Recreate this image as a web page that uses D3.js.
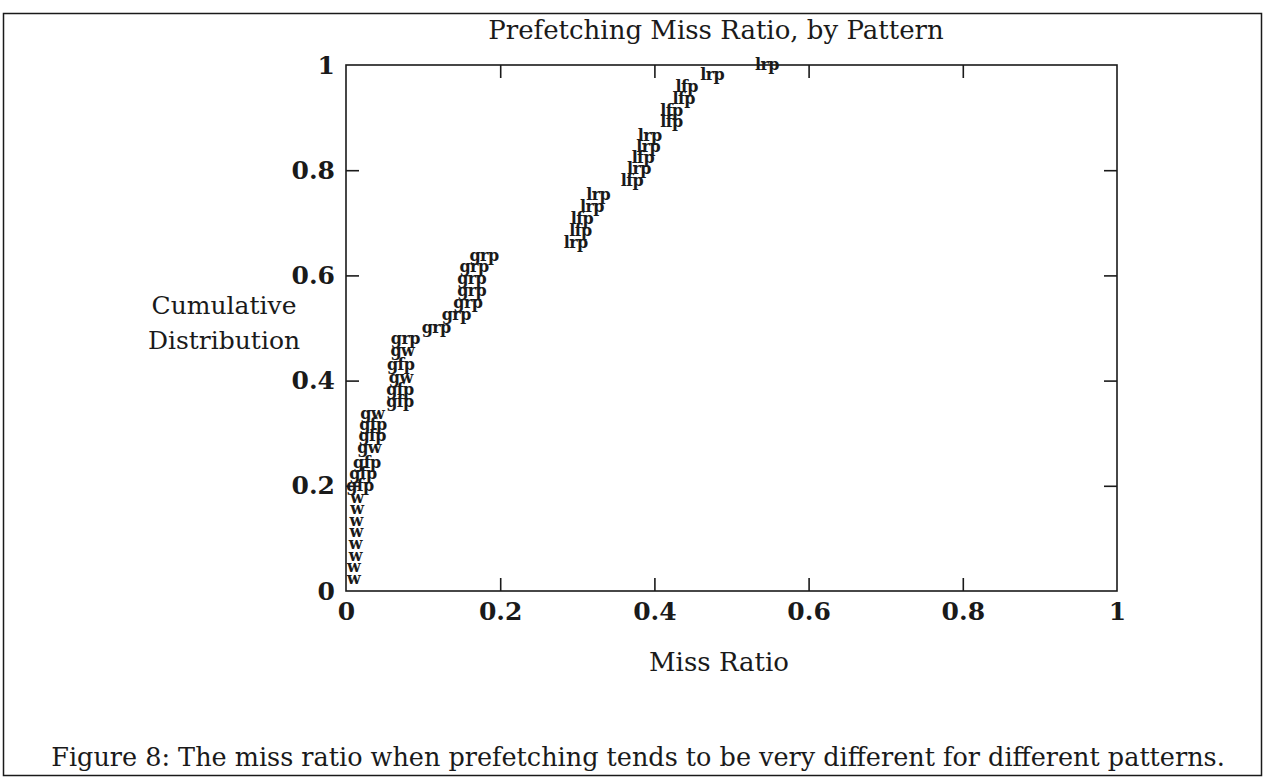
<!DOCTYPE html>
<html>
<head>
<meta charset="utf-8">
<script src="https://cdn.jsdelivr.net/npm/d3@7"></script>
<style>
  html, body { margin: 0; padding: 0; background: #fff; }
  svg { display: block; }
  text { font-family: "DejaVu Serif", "Liberation Serif", serif; fill: #1a1a1a; }
</style>
</head>
<body>
<svg id="chart" width="1266" height="782"></svg>
<script>
// ---- data ----
const patterns = [
  "w","w","w","w","w","w","w","w",
  "gfp","gfp","gfp","gw","gfp","gfp","gw","gfp","gfp","gw","gfp","gw",
  "grp","grp","grp","grp","grp","grp","grp","grp",
  "lrp","lfp","lfp","lrp","lrp","lfp","lrp","lfp","lrp","lrp",
  "lfp","lfp","lfp","lfp","lrp","lrp"
];
const missRatio = [
  0.010,0.010,0.012,0.012,0.013,0.013,0.014,0.014,
  0.018,0.022,0.027,0.030,0.034,0.035,0.034,0.070,0.070,0.071,0.071,0.073,
  0.077,0.117,0.143,0.158,0.163,0.163,0.166,0.179,
  0.298,0.304,0.306,0.319,0.327,0.371,0.380,0.385,0.392,0.394,
  0.422,0.422,0.438,0.442,0.475,0.546
];
const cumulative = [
  0.023,0.046,0.067,0.090,0.113,0.134,0.156,0.177,
  0.200,0.223,0.244,0.273,0.294,0.315,0.336,0.359,0.382,0.406,0.429,0.456,
  0.479,0.500,0.525,0.548,0.571,0.594,0.616,0.637,
  0.662,0.685,0.708,0.731,0.754,0.779,0.802,0.824,0.844,0.866,
  0.891,0.912,0.935,0.958,0.981,1.000
];
const xTicks = [0, 0.2, 0.4, 0.6, 0.8, 1];
const yTicks = [0, 0.2, 0.4, 0.6, 0.8, 1];
const xTickLabels = ["0","0.2","0.4","0.6","0.8","1"];
const yTickLabels = ["0","0.2","0.4","0.6","0.8","1"];
const titleText = "Prefetching Miss Ratio, by Pattern";
const xLabelText = "Miss Ratio";
const yLabelLines = ["Cumulative", "Distribution"];
const captionText = "Figure 8: The miss ratio when prefetching tends to be very different for different patterns.";

// ---- layout ----
const svg = d3.select("#chart");
const plot = { left: 346, right: 1117, top: 65, bottom: 591 };
const x = d3.scaleLinear().domain([0, 1]).range([plot.left, plot.right]);
const y = d3.scaleLinear().domain([0, 1]).range([plot.bottom, plot.top]);
const ink = "#1a1a1a";

// outer frame
svg.append("rect")
  .attr("x", 3.5).attr("y", 13.5).attr("width", 1258).attr("height", 762)
  .attr("fill", "none").attr("stroke", ink).attr("stroke-width", 1.5);

// title
svg.append("text").attr("x", 716).attr("y", 39)
  .attr("text-anchor", "middle").style("font-size", "26px").text(titleText);

// plot border
svg.append("rect")
  .attr("x", plot.left).attr("y", plot.top)
  .attr("width", plot.right - plot.left).attr("height", plot.bottom - plot.top)
  .attr("fill", "none").attr("stroke", ink).attr("stroke-width", 1.6);

const tl = 13;
const axB = d3.axisBottom(x).tickValues(xTicks).tickSize(tl).tickFormat((d, i) => xTickLabels[i]);
const axT = d3.axisTop(x).tickValues(xTicks).tickSize(tl).tickFormat("");
const axL = d3.axisLeft(y).tickValues(yTicks).tickSize(tl).tickFormat((d, i) => yTickLabels[i]);
const axR = d3.axisRight(y).tickValues(yTicks).tickSize(tl).tickFormat("");

function styleAxis(g) {
  g.select(".domain").remove();
  g.selectAll(".tick line").attr("stroke", ink).attr("stroke-width", 1.6);
  g.selectAll(".tick text").attr("fill", ink)
    .style("font-family", "'DejaVu Serif', serif").style("font-size", "25px").style("font-weight", "bold");
}

const gB = svg.append("g").attr("transform", `translate(0,${plot.bottom})`).call(axB);
styleAxis(gB);
gB.selectAll(".tick line").attr("y2", -tl);
gB.selectAll(".tick text").attr("y", 11).attr("dy", "0.71em");
gB.selectAll(".tick").filter(d => d === 0 || d === 1).select("line").remove();

const gT = svg.append("g").attr("transform", `translate(0,${plot.top})`).call(axT);
styleAxis(gT);
gT.selectAll(".tick line").attr("y2", tl);
gT.selectAll(".tick").filter(d => d === 0 || d === 1).select("line").remove();

const gL = svg.append("g").attr("transform", `translate(${plot.left},0)`).call(axL);
styleAxis(gL);
gL.selectAll(".tick line").attr("x2", tl);
gL.selectAll(".tick text").attr("x", -11);
gL.selectAll(".tick").filter(d => d === 0 || d === 1).select("line").remove();

const gR = svg.append("g").attr("transform", `translate(${plot.right},0)`).call(axR);
styleAxis(gR);
gR.selectAll(".tick line").attr("x2", -tl);
gR.selectAll(".tick").filter(d => d === 0 || d === 1).select("line").remove();

// axis titles
svg.append("text").attr("x", 719).attr("y", 671)
  .attr("text-anchor", "middle").style("font-size", "26px").text(xLabelText);
svg.append("g").selectAll("text").data(yLabelLines).join("text")
  .attr("x", 224).attr("y", (d, i) => 314 + i * 35)
  .attr("text-anchor", "middle").style("font-size", "25px").text(d => d);

// point labels
const pts = patterns.map((p, i) => ({ p, mx: missRatio[i], cy: cumulative[i] }));
svg.append("g").selectAll("text").data(pts).join("text")
  .attr("x", d => x(d.mx)).attr("y", d => y(d.cy))
  .attr("dy", "0.32em")
  .attr("text-anchor", "middle")
  .style("font-size", "16px").style("font-weight", "bold")
  .style("letter-spacing", "-0.6px")
  .text(d => d.p);

// caption
svg.append("text").attr("x", 638).attr("y", 766)
  .attr("text-anchor", "middle").style("font-size", "25.5px").text(captionText);
</script>
</body>
</html>
